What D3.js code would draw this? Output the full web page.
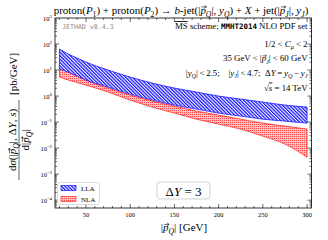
<!DOCTYPE html>
<html>
<head>
<meta charset="utf-8">
<script src="https://cdn.jsdelivr.net/npm/d3@7"></script>
<style>
  body { margin: 0; background: #fff; }
  svg { display: block; }
</style>
</head>
<body>
<div id="chart"></div>
<script>
// |p_Q| [GeV] and band edges [pb/GeV]
const pT    = [20, 30, 40, 50, 75, 100, 125, 150, 175, 200, 225, 250, 275, 300];
const llaHi = [64.2, 41.2, 28.9, 20.3, 10.0, 5.38, 3.16, 2.03, 1.43, 1.00, 0.766, 0.588, 0.451, 0.377];
const llaLo = [10.9, 8.38, 5.88, 4.12, 2.22, 1.19, 0.702, 0.451, 0.316, 0.222, 0.170, 0.130, 0.109, 0.0915];
const nlaHi = [11.9, 8.38, 5.88, 4.12, 2.03, 1.09, 0.642, 0.412, 0.265, 0.186, 0.130, 0.0915, 0.0702, 0.0538];
const nlaLo = [5.38, 4.12, 3.31, 2.65, 1.43, 0.702, 0.377, 0.222, 0.130, 0.0838, 0.0538, 0.0290, 0.0143, 0.00451];

const xTicks = [50, 100, 150, 200, 250, 300];
const yExps  = [3, 2, 1, 0, -1, -2, -3, -4];
const legendLabels = ["LLA", "NLA"];

const W = 328, H = 240;
const mL = 55, mR = 311.5, mT = 18, mB = 208;
const serif = "'Liberation Serif', 'DejaVu Serif', serif";
const mono = "'DejaVu Sans Mono', 'Liberation Mono', monospace";

const svg = d3.select("#chart").append("svg")
  .attr("width", W).attr("height", H)
  .attr("viewBox", `0 0 ${W} ${H}`);

const x = d3.scaleLinear().domain([15, 305]).range([mL, mR]);
const y = d3.scaleLog().domain([Math.pow(10, -4.3), 1000]).range([mB, mT]);

// patterns
const defs = svg.append("defs");
const pb = defs.append("pattern").attr("id", "hatchB")
  .attr("patternUnits", "userSpaceOnUse").attr("width", 2.4).attr("height", 2.4)
  .attr("patternTransform", "rotate(-45)");
pb.append("rect").attr("width", 2.4).attr("height", 2.4).attr("fill", "#f4f4ff");
pb.append("line").attr("x1", 0.6).attr("y1", 0).attr("x2", 0.6).attr("y2", 2.4)
  .attr("stroke", "#1414ff").attr("stroke-width", 1.25);

const pr = defs.append("pattern").attr("id", "dotR")
  .attr("patternUnits", "userSpaceOnUse").attr("width", 2).attr("height", 2);
pr.append("rect").attr("width", 2).attr("height", 2).attr("fill", "#ffbcbc");
pr.append("rect").attr("width", 1).attr("height", 1).attr("fill", "#ff4a4a");

defs.append("clipPath").attr("id", "clip").append("rect")
  .attr("x", mL).attr("y", mT).attr("width", mR - mL).attr("height", mB - mT);

// bands
const rows = pT.map((p, i) => ({ p, lh: llaHi[i], ll: llaLo[i], nh: nlaHi[i], nl: nlaLo[i] }));
const g = svg.append("g").attr("clip-path", "url(#clip)");

function band(hiKey, loKey, fill, stroke) {
  const area = d3.area().curve(d3.curveMonotoneX)
    .x(d => x(d.p)).y0(d => y(d[loKey])).y1(d => y(d[hiKey]));
  g.append("path").datum(rows).attr("d", area).attr("fill", fill);
  [hiKey, loKey].forEach(k => {
    const line = d3.line().curve(d3.curveMonotoneX).x(d => x(d.p)).y(d => y(d[k]));
    g.append("path").datum(rows).attr("d", line)
      .attr("fill", "none").attr("stroke", stroke).attr("stroke-width", 0.8);
  });
  // end caps
  const a = rows[0], b = rows[rows.length - 1];
  g.append("line").attr("x1", x(a.p)).attr("x2", x(a.p)).attr("y1", y(a[hiKey])).attr("y2", y(a[loKey]))
    .attr("stroke", stroke).attr("stroke-width", 0.8);
  g.append("line").attr("x1", x(b.p)).attr("x2", x(b.p)).attr("y1", y(b[hiKey])).attr("y2", y(b[loKey]))
    .attr("stroke", stroke).attr("stroke-width", 0.8);
}
band("nh", "nl", "url(#dotR)", "#ff2a2a");
band("lh", "ll", "url(#hatchB)", "#1a1aff");

// frame + inward ticks
svg.append("rect").attr("x", mL).attr("y", mT)
  .attr("width", mR - mL).attr("height", mB - mT)
  .attr("fill", "none").attr("stroke", "#000").attr("stroke-width", 0.8);

const tk = svg.append("g").attr("stroke", "#000").attr("stroke-width", 0.6);
d3.range(20, 301, 10).forEach(v => {
  const len = v % 50 === 0 ? 4 : 2;
  tk.append("line").attr("x1", x(v)).attr("x2", x(v)).attr("y1", mB).attr("y2", mB - len);
  tk.append("line").attr("x1", x(v)).attr("x2", x(v)).attr("y1", mT).attr("y2", mT + len);
});
d3.range(-5, 3).forEach(e => {
  d3.range(1, 10).forEach(k => {
    const v = k * Math.pow(10, e);
    if (v < y.domain()[0] || v > y.domain()[1]) return;
    const len = k === 1 ? 4 : 2;
    tk.append("line").attr("x1", mL).attr("x2", mL + len).attr("y1", y(v)).attr("y2", y(v));
    tk.append("line").attr("x1", mR).attr("x2", mR - len).attr("y1", y(v)).attr("y2", y(v));
  });
});

// tick labels
svg.append("g").selectAll("text").data(xTicks).join("text")
  .attr("x", d => x(d)).attr("y", 217).attr("text-anchor", "middle")
  .attr("font-family", serif).attr("font-size", 6.5).text(d => d);

const yl = svg.append("g").selectAll("text").data(yExps).join("text")
  .attr("x", 52).attr("y", d => y(Math.pow(10, d)) + 2.5).attr("text-anchor", "end")
  .attr("font-family", serif).attr("font-size", 6.5);
yl.append("tspan").text("10");
yl.append("tspan").attr("dy", -2.8).attr("font-size", 4.8)
  .text(d => (d < 0 ? "\u2212" + (-d) : d));

// rich text: parts of {t, i, sub, sup, mono, ov, vec}; optional fit to a width
function rich(parent, o, parts, fs, fitW) {
  const grp = parent.append("g");
  const build = f => {
    grp.selectAll("*").remove();
    const t = grp.append("text").attr("x", o.x).attr("y", o.y)
      .attr("text-anchor", o.anchor || "start")
      .attr("font-family", serif).attr("font-size", f);
    let cur = 0;
    const vecs = [];
    parts.forEach(p => {
      const lvl = p.sub ? f * 0.3 : p.sup ? -f * 0.4 : 0;
      const ts = t.append("tspan").text(p.vec ? "p" : p.t);
      if (lvl !== cur) ts.attr("dy", lvl - cur);
      cur = lvl;
      if (p.sub || p.sup) ts.attr("font-size", f * 0.7);
      if (p.i || p.vec) ts.attr("font-style", "italic");
      if (p.mono) ts.attr("font-family", mono).attr("font-size", f * 0.85).attr("font-weight", "bold");
      if (p.ov) ts.style("text-decoration", "overline");
      if (p.vec) vecs.push(ts.node());
    });
    // little arrows over the vector p
    vecs.forEach(n => {
      const s = n.getStartPositionOfChar(0), w = n.getComputedTextLength();
      const yA = s.y - f * 0.6, x0 = s.x + w * 0.2, x1 = s.x + w * 1.1, h = f * 0.12;
      grp.append("path")
        .attr("d", `M${x0},${yA}H${x1}M${x1 - h * 1.4},${yA - h}L${x1},${yA}L${x1 - h * 1.4},${yA + h}`)
        .attr("fill", "none").attr("stroke", "#000").attr("stroke-width", f * 0.055);
    });
    return t;
  };
  const t = build(fs);
  if (fitW) build(fs * fitW / t.node().getComputedTextLength());
  return grp;
}
const P = { vec: true };

// title
rich(svg, { x: 181, y: 13.5, anchor: "middle" }, [
  { t: "proton(" }, { t: "P", i: true }, { t: "1", sub: true }, { t: ") + proton(" },
  { t: "P", i: true }, { t: "2", sub: true }, { t: ") \u2192 " }, { t: "b", i: true },
  { t: "-jet(|" }, P, { t: "Q", i: true, sub: true }, { t: "|, " },
  { t: "y", i: true }, { t: "Q", i: true, sub: true }, { t: ") + " }, { t: "X", i: true },
  { t: " + jet(|" }, P, { t: "J", i: true, sub: true }, { t: "|, " },
  { t: "y", i: true }, { t: "J", i: true, sub: true }, { t: ")" }
], 10, 255);

// annotations
svg.append("text").attr("x", 62).attr("y", 28.5)
  .attr("font-family", mono).attr("font-size", 6.6).attr("fill", "#888").text("JETHAD v0.4.3");

const ann = [
  [{ t: "MS", ov: true }, { t: " scheme; " }, { t: "MMHT2014", mono: true }, { t: " NLO PDF set" }],
  [{ t: "1/2 < " }, { t: "C", i: true }, { t: "\u03BC", i: true, sub: true }, { t: " < 2" }],
  [{ t: "35 GeV < |" }, P, { t: "J", i: true, sub: true }, { t: "| < 60 GeV" }],
  [{ t: "|" }, { t: "y", i: true }, { t: "Q", i: true, sub: true }, { t: "|\u2009<\u20092.5;\u2003|" },
   { t: "y", i: true }, { t: "J", i: true, sub: true }, { t: "|\u2009<\u20094.7;\u2002\u0394" }, { t: "Y", i: true },
   { t: "\u2009=\u2009" }, { t: "y", i: true }, { t: "Q", i: true, sub: true }, { t: "\u2009\u2212\u2009" },
   { t: "y", i: true }, { t: "J", i: true, sub: true }],
  [{ t: "\u221A" }, { t: "s", i: true, ov: true }, { t: " = 14 TeV" }]
];
const annY = [29, 46.5, 61, 75.5, 90.5];
ann.forEach((parts, i) => {
  rich(svg, { x: 307.5, y: annY[i], anchor: "end" }, parts, 8.8);
});

// legend
const lg = svg.append("g");
lg.append("rect").attr("x", 57.5).attr("y", 182.5).attr("width", 42).attr("height", 22)
  .attr("rx", 2).attr("fill", "#fff").attr("stroke", "#ccc").attr("stroke-width", 0.7);
const swFill = ["url(#hatchB)", "url(#dotR)"], swStroke = ["#1a1aff", "#ff2a2a"];
legendLabels.forEach((lab, i) => {
  const cy = 188 + i * 11;
  lg.append("rect").attr("x", 61).attr("y", cy - 2.5).attr("width", 15).attr("height", 5)
    .attr("fill", swFill[i]).attr("stroke", swStroke[i]).attr("stroke-width", 0.7);
  lg.append("text").attr("x", 81).attr("y", cy + 2.5).attr("font-family", serif)
    .attr("font-size", 7).text(lab);
});

// ΔY box
svg.append("rect").attr("x", 157).attr("y", 182).attr("width", 53).attr("height", 17)
  .attr("rx", 3).attr("fill", "#fff").attr("stroke", "#bbb").attr("stroke-width", 0.7);
rich(svg, { x: 183.5, y: 195.5, anchor: "middle" },
  [{ t: "\u0394" }, { t: "Y", i: true }, { t: " = 3" }], 13);

// x label
rich(svg, { x: 184, y: 231, anchor: "middle" },
  [{ t: "|" }, P, { t: "Q", i: true, sub: true }, { t: "| [GeV]" }], 11);

// y label (fraction, rotated)
const yg = svg.append("g").attr("transform", "translate(19,140) rotate(-90)");
rich(yg, { x: 0, y: -3, anchor: "middle" }, [
  { t: "d" }, { t: "\u03C3", i: true }, { t: "(|" }, P, { t: "Q", i: true, sub: true },
  { t: "|, \u0394" }, { t: "Y", i: true }, { t: ", " }, { t: "s", i: true }, { t: ")" }
], 11);
yg.append("line").attr("x1", -40).attr("x2", 40).attr("y1", 0).attr("y2", 0)
  .attr("stroke", "#000").attr("stroke-width", 0.6);
rich(yg, { x: 0, y: 10, anchor: "middle" }, [
  { t: "d|" }, P, { t: "Q", i: true, sub: true }, { t: "|" }
], 11);
yg.append("text").attr("x", 45).attr("y", -2)
  .attr("font-family", serif).attr("font-size", 11).text("[pb/GeV]");
</script>
</body>
</html>
